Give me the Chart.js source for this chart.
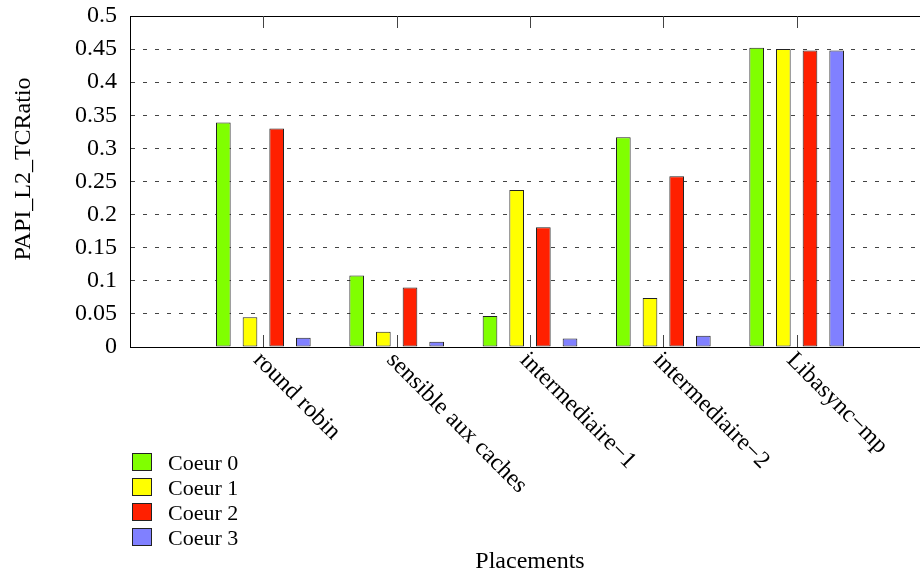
<!DOCTYPE html>
<html>
<head>
<meta charset="utf-8">
<script src="https://cdn.jsdelivr.net/npm/chart.js@4"></script>
<style>
  body { margin: 0; background: #fff; }
  #wrap { width: 920px; height: 575px; overflow: hidden; position: relative; }
</style>
</head>
<body>
<div id="wrap"><canvas id="chart" width="940" height="575"></canvas></div>
<script>
const FONT = "'Liberation Serif', 'DejaVu Serif', serif";

const categories = ["round robin", "sensible aux caches", "intermediaire\u22121", "intermediaire\u22122", "Libasync\u2212mp"];
const seriesNames = ["Coeur 0", "Coeur 1", "Coeur 2", "Coeur 3"];
const seriesColors = ["#80ff00", "#ffff00", "#ff2000", "#8080ff"];

const coeur0 = [0.339, 0.108, 0.047, 0.317, 0.452];
const coeur1 = [0.045, 0.023, 0.237, 0.074, 0.450];
const coeur2 = [0.330, 0.090, 0.181, 0.258, 0.448];
const coeur3 = [0.014, 0.008, 0.013, 0.017, 0.448];

const yMax = 0.5;
const yStep = 0.05;

// empty slot on each side, like the gnuplot range
const labels = ["", ...categories, ""];
const pad = (arr) => [null, ...arr, null];

const overlay = {
  id: "overlay",
  afterDatasetsDraw(chart) {
    const { ctx, chartArea: a, scales: { x } } = chart;
    ctx.save();

    // top border
    ctx.strokeStyle = "#000";
    ctx.lineWidth = 1;
    ctx.beginPath();
    ctx.moveTo(a.left, Math.round(a.top) + 0.5);
    ctx.lineTo(a.right, Math.round(a.top) + 0.5);
    ctx.stroke();

    // inward ticks top and bottom
    ctx.strokeStyle = "#444";
    ctx.beginPath();
    categories.forEach((c, i) => {
      const px = Math.round(x.getPixelForValue(i + 1)) + 0.5;
      ctx.moveTo(px, a.bottom);
      ctx.lineTo(px, a.bottom - 12);
      ctx.moveTo(px, a.top);
      ctx.lineTo(px, a.top + 12);
    });
    ctx.stroke();

    // rotated category labels
    ctx.fillStyle = "#000";
    ctx.font = "24px " + FONT;
    ctx.textAlign = "left";
    ctx.textBaseline = "top";
    categories.forEach((c, i) => {
      const px = x.getPixelForValue(i + 1);
      ctx.save();
      ctx.translate(px + 2, a.bottom + 1);
      ctx.rotate(Math.PI / 4);
      ctx.fillText(c, 0, 0);
      ctx.restore();
    });

    // axis titles
    ctx.textAlign = "center";
    ctx.textBaseline = "middle";
    ctx.save();
    ctx.translate(24, 169);
    ctx.rotate(-Math.PI / 2);
    ctx.fillText("PAPI_L2_TCRatio", 0, 0);
    ctx.restore();
    ctx.textBaseline = "alphabetic";
    ctx.fillText("Placements", (a.left + a.right) / 2, 568);

    // legend
    ctx.font = "22px " + FONT;
    ctx.textAlign = "left";
    chart.data.datasets.forEach((ds, i) => {
      const top = 453 + i * 25;
      ctx.fillStyle = ds.backgroundColor;
      ctx.fillRect(132, top, 20, 18);
      ctx.strokeStyle = "#222";
      ctx.strokeRect(132.5, top + 0.5, 19, 17);
      ctx.fillStyle = "#000";
      ctx.fillText(ds.label, 168, top + 17);
    });

    ctx.restore();
  },
};

function initChart() {
  const ctx = document.getElementById("chart");
  const seriesData = [coeur0, coeur1, coeur2, coeur3];

  new Chart(ctx, {
    type: "bar",
    data: {
      labels: labels,
      datasets: seriesData.map((d, i) => ({
        label: seriesNames[i],
        data: pad(d),
        backgroundColor: seriesColors[i],
        borderColor: "#222",
        borderWidth: 1,
        borderSkipped: false,
        categoryPercentage: 0.8,
        barPercentage: 0.55,
      })),
    },
    options: {
      responsive: false,
      animation: false,
      layout: { padding: { top: 16, right: 10, left: 0, bottom: 0 } },
      plugins: {
        legend: { display: false },
        tooltip: { enabled: false },
      },
      scales: {
        x: {
          offset: false,
          ticks: { display: false },
          grid: { display: false, offset: false },
          border: { display: true, color: "#000", width: 1 },
          afterFit: (s) => { s.height = 228; s.paddingLeft = 0; s.paddingRight = 0; },
        },
        y: {
          min: 0,
          max: yMax,
          ticks: {
            stepSize: yStep,
            color: "#000",
            padding: 13,
            font: { family: FONT, size: 24 },
            callback: (v) => String(+v.toFixed(2)),
          },
          grid: {
            drawTicks: false,
            lineWidth: 1,
            color: (c) => (c.tick && (c.tick.value === 0 || Math.abs(c.tick.value - yMax) < 1e-9) ? "rgba(0,0,0,0)" : "#444"),
          },
          border: { display: true, color: "#000", width: 1, dash: [4, 8] },
          afterFit: (s) => { s.width = 130; s.paddingTop = 0; s.paddingBottom = 0; },
        },
      },
    },
    plugins: [overlay],
  });
}

document.addEventListener("DOMContentLoaded", initChart);
</script>
</body>
</html>
